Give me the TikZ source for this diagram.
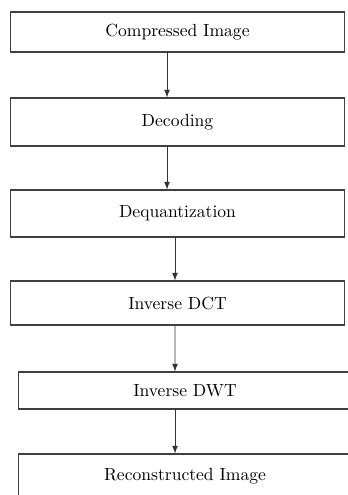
\documentclass[tikz,border=0pt]{standalone}
\usepackage{amssymb}
\usepackage{amsmath}
\usepackage{tikz}

\tikzset{
	blk/.style={draw=black!75, line width=0.6pt, minimum width=6.7cm, inner sep=0pt},
	arr/.style={draw=black!80, line width=0.5pt, -latex}
}

\begin{document}
\begin{tikzpicture}[x=0.02cm, y=-0.02cm]
	%frame
	\useasboundingbox (0,0) rectangle (348,495);
	\clip (0,0) rectangle (348,495);
	
	%boxes
	\node[blk, minimum height=0.8cm]  (cimg) at (177.5,32)  {Compressed Image};
	\node[blk, minimum height=0.96cm] (dec)  at (177.5,122) {Decoding};
	\node[blk, minimum height=0.94cm] (deq)  at (177.5,213.5) {Dequantization};
	\node[blk, minimum height=0.88cm] (idct) at (177.5,303) {Inverse DCT};
	\node[blk, minimum height=0.74cm, minimum width=6.68cm] (idwt) at (185,390.5) {Inverse DWT};
	\node[blk, minimum height=0.88cm, minimum width=6.68cm] (rimg) at (185,476)   {Reconstructed Image};
	
	%arrows
	\draw[arr] ([xshift=-0.21cm]cimg.south) -- ([xshift=-0.21cm]dec.north);
	\draw[arr] ([xshift=-0.21cm]dec.south)  -- ([xshift=-0.21cm]deq.north);
	\draw[arr] ([xshift=-0.05cm]deq.south)  -- ([xshift=-0.05cm]idct.north);
	\draw[arr] ([xshift=-0.05cm]idct.south) -- ([xshift=-0.2cm]idwt.north);
	\draw[arr] ([xshift=-0.2cm]idwt.south)  -- ([xshift=-0.2cm]rimg.north);
	%\draw[help lines] (0,0) grid (348,495);
\end{tikzpicture}
\end{document}
